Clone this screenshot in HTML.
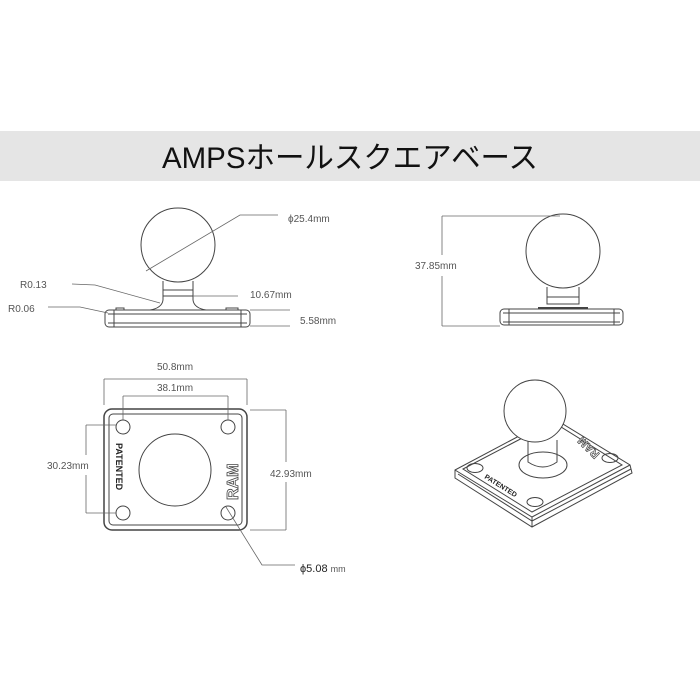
<!DOCTYPE html>
<html><head><meta charset="utf-8"><style>
html,body{margin:0;padding:0;background:#fff;}
svg{display:block}
text{font-family:"Liberation Sans","Noto Sans CJK JP",sans-serif;fill:#555;}
</style></head><body>
<svg width="700" height="700" viewBox="0 0 700 700" xmlns="http://www.w3.org/2000/svg">
<rect x="0" y="131" width="700" height="50" fill="#e5e5e5"/>
<text x="350" y="168" text-anchor="middle" font-size="30" textLength="376" lengthAdjust="spacingAndGlyphs" style="fill:#111">AMPSホールスクエアベース</text>

<g fill="none" stroke="#444" stroke-width="1">
<circle cx="178" cy="245" r="37" fill="#fff"/>
<path d="M163 281 L163 300 Q162 308 150 310 M193 281 L193 300 Q194 308 206 310"/>
<line x1="163" y1="290" x2="193" y2="290"/><line x1="163" y1="296" x2="193" y2="296"/>
<rect x="105" y="310" width="145" height="17" rx="4"/>
<line x1="108" y1="314" x2="247" y2="314"/><line x1="108" y1="323" x2="247" y2="323"/>
<line x1="114" y1="310" x2="114" y2="327"/><line x1="241" y1="310" x2="241" y2="327"/>
<rect x="116" y="308" width="8" height="2"/><rect x="226" y="308" width="12" height="2"/>
</g>
<g fill="none" stroke="#666" stroke-width="0.8">
<polyline points="278,215 240,215 146,271"/>
<polyline points="72,284 95,285 160,303"/>
<polyline points="48,307 80,307 108,313"/>
<line x1="193" y1="296" x2="238" y2="296"/>
<line x1="250" y1="310" x2="290" y2="310"/><line x1="250" y1="326" x2="290" y2="326"/>
</g>
<text x="288" y="222" font-size="10">ϕ25.4mm</text>
<text x="20" y="288" font-size="10">R0.13</text>
<text x="8" y="312" font-size="10">R0.06</text>
<text x="250" y="298" font-size="10">10.67mm</text>
<text x="300" y="324" font-size="10">5.58mm</text>

<g fill="none" stroke="#444" stroke-width="1">
<circle cx="563" cy="251" r="37" fill="#fff"/>
<path d="M547 287 L547 304 L579 304 L579 287"/>
<line x1="547" y1="297" x2="579" y2="297"/>
<line x1="538" y1="308" x2="588" y2="308" stroke-width="2"/>
<rect x="500" y="309" width="123" height="16" rx="4"/>
<line x1="503" y1="313" x2="620" y2="313"/><line x1="503" y1="322" x2="620" y2="322"/>
<line x1="509" y1="309" x2="509" y2="325"/><line x1="614" y1="309" x2="614" y2="325"/>
</g>
<g fill="none" stroke="#666" stroke-width="0.8">
<line x1="442" y1="216" x2="560" y2="216"/><line x1="442" y1="326" x2="500" y2="326"/>
<line x1="442" y1="216" x2="442" y2="255"/><line x1="442" y1="276" x2="442" y2="326"/>
</g>
<text x="415" y="269" font-size="10">37.85mm</text>

<g fill="none" stroke="#444" stroke-width="1">
<rect x="104" y="409" width="143" height="121" rx="8" stroke-width="1.5"/>
<rect x="109" y="414" width="133" height="111" rx="4"/>
<circle cx="123" cy="427" r="7"/><circle cx="228" cy="427" r="7"/>
<circle cx="123" cy="513" r="7"/><circle cx="228" cy="513" r="7"/>
<circle cx="175" cy="470" r="36"/>
</g>
<text transform="translate(116,443) rotate(90)" font-size="9" font-weight="bold" style="fill:#222">PATENTED</text>
<text transform="translate(238,500) rotate(-90)" font-size="16" font-weight="bold" style="fill:#fff;stroke:#444;stroke-width:0.8">RAM</text>
<g fill="none" stroke="#666" stroke-width="0.8">
<line x1="104" y1="379" x2="247" y2="379"/><line x1="104" y1="379" x2="104" y2="405"/><line x1="247" y1="379" x2="247" y2="405"/>
<line x1="123" y1="396" x2="228" y2="396"/><line x1="123" y1="396" x2="123" y2="420"/><line x1="228" y1="396" x2="228" y2="420"/>
<line x1="86" y1="425" x2="116" y2="425"/><line x1="86" y1="513" x2="116" y2="513"/>
<line x1="86" y1="425" x2="86" y2="455"/><line x1="86" y1="475" x2="86" y2="513"/>
<line x1="250" y1="410" x2="286" y2="410"/><line x1="250" y1="530" x2="286" y2="530"/>
<line x1="286" y1="410" x2="286" y2="462"/><line x1="286" y1="482" x2="286" y2="530"/>
<polyline points="226,507 262,565 295,565"/>
</g>
<text x="175" y="370" font-size="10" text-anchor="middle">50.8mm</text>
<text x="175" y="391" font-size="10" text-anchor="middle">38.1mm</text>
<text x="47" y="469" font-size="10">30.23mm</text>
<text x="270" y="477" font-size="10">42.93mm</text>
<text x="300" y="572" font-size="11" style="fill:#222">ϕ5.08 <tspan font-size="9" fill="#555">mm</tspan></text>

<!-- iso view -->
<g fill="none" stroke="#444" stroke-width="1">
<path d="M455 470 L553 418 L630 465 L632 473 L532 527 L455 478 Z" fill="#fff"/>
<path d="M455 470 L532 517 L630 465"/>
<path d="M458 474 L532 521 L631 469"/>
<path d="M463 469 L553 422 L622 465 L532 512 Z"/>
<line x1="532" y1="517" x2="532" y2="527"/>
<ellipse cx="475" cy="468" rx="8" ry="4.5"/><ellipse cx="610" cy="458" rx="8" ry="4.5"/>
<ellipse cx="535" cy="502" rx="8" ry="4.5"/>
<ellipse cx="543" cy="465" rx="24" ry="13"/>
<path d="M528 440 L528 462 Q543 472 557 462 L557 440"/>
<circle cx="535" cy="411" r="31" fill="#fff"/>
</g>
<text transform="translate(484,478) rotate(32)" font-size="7" font-weight="bold" style="fill:#222">PATENTED</text>
<text transform="translate(600,454) rotate(-135)" font-size="11" font-weight="bold" style="fill:#fff;stroke:#444;stroke-width:0.7">RAM</text>
</svg>
</body></html>
